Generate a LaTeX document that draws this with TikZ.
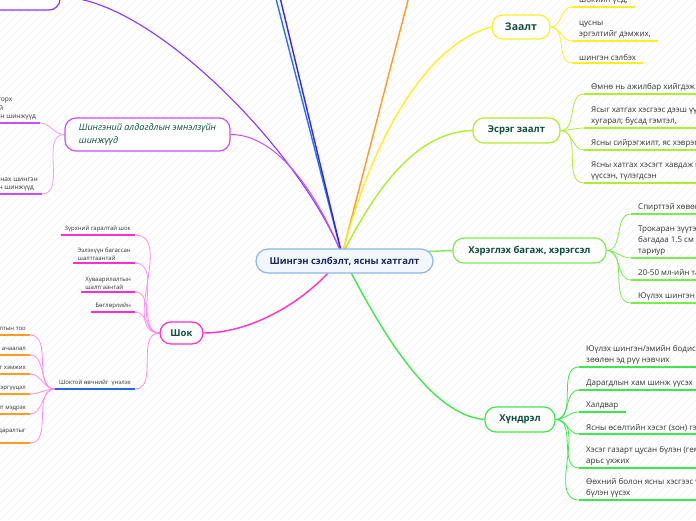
\documentclass[tikz,border=0pt]{standalone}
\usepackage{fontspec}
\setmainfont{Open Sans}
\usetikzlibrary{backgrounds}
\definecolor{hubtext}{HTML}{1B2A52}
\definecolor{hubfill}{HTML}{F2F7FE}
\definecolor{hubline}{HTML}{8DB6E2}
\definecolor{darkgreen}{HTML}{0D4F3C}
\definecolor{leaftext}{HTML}{333333}
\definecolor{yel}{HTML}{FFEE22}
\definecolor{lime}{HTML}{AEEE2E}
\definecolor{grn}{HTML}{77EE4E}
\definecolor{brgreen}{HTML}{3FE84A}
\definecolor{mag}{HTML}{FF2ECC}
\definecolor{lightmag}{HTML}{FF8CEE}
\definecolor{violet}{HTML}{CC4CFF}
\definecolor{lightviolet}{HTML}{EE9CFF}
\definecolor{purp}{HTML}{8A33FF}
\definecolor{sky}{HTML}{2273FF}
\definecolor{indigo}{HTML}{3A22EE}
\definecolor{orng}{HTML}{FF9A22}
\definecolor{ublue}{HTML}{2266EE}
\begin{document}
\begin{tikzpicture}[x=1pt, y=-1pt,
    branch/.style={draw=#1, fill=white, line width=1.2pt, rounded corners=11pt,
      text=darkgreen, font=\bfseries\fontsize{9.5}{12}\selectfont, inner sep=2pt},
    leaf/.style={inner xsep=7pt, inner ysep=2.5pt, align=left, text=leaftext,
      font=\fontsize{8}{11}\selectfont,
      append after command={(\tikzlastnode.south west) edge[draw=#1, line width=1.4pt] (\tikzlastnode.south east)}},
    smallleaf/.style={leaf=#1, inner xsep=4pt, font=\fontsize{6}{8}\selectfont},
    twig/.style={draw=#1, line width=0.8pt},
    limb/.style={draw=#1, line width=1.4pt}]
  \useasboundingbox (0,0) rectangle (696,520);
  \clip (0,0) rectangle (696,520);

  % centre and main branches
  \node[draw=hubline, fill=hubfill, line width=1.2pt, rounded corners=12pt,
    minimum width=177pt, minimum height=24pt, text=hubtext,
    font=\bfseries\fontsize{9.5}{11}\selectfont] (hub) at (344.5,261) {Шингэн сэлбэлт, ясны хатгалт};
  \coordinate (hubc) at (342,255);
  \node[branch=yel, minimum width=58pt, minimum height=24pt, font=\bfseries\fontsize{10.5}{12}\selectfont] (indic) at (521,27) {Заалт};
  \node[branch=lime, minimum width=87pt, minimum height=25pt] (contra) at (516.5,130.5) {Эсрэг заалт};
  \node[branch=grn, minimum width=153pt, minimum height=25pt] (tools) at (529.5,250.5) {Хэрэглэх багаж, хэрэгсэл};
  \node[branch=brgreen, minimum width=70pt, minimum height=25pt] (compl) at (520,419.5) {Хүндрэл};
  \node[branch=mag, minimum width=43pt, minimum height=22pt] (shock) at (181.5,333) {Шок};
  \node[branch=violet, minimum width=165pt, minimum height=33pt, align=left,
    font=\itshape\fontsize{9}{12.5}\selectfont] (signs) at (147.5,134.5) {Шингэний алдагдлын эмнэлзүйн\\шинжүүд};
  \node[branch=purp, minimum width=96pt, minimum height=26pt] (rehyd) at (12,-3) {Шингэн сэлбэх};
  \coordinate (upsky) at (266,-40);
  \coordinate (upind) at (271,-40);
  \coordinate (upor) at (418.4,-40);

  % leaves
  \node[leaf=yel, anchor=south west] (z1) at (572,7) {шокийн үед,};
  \node[leaf=yel, anchor=south west] (z2) at (572,41) {цусны\\эргэлтийг дэмжих,};
  \node[leaf=yel, anchor=south west] (z3) at (572,63) {шингэн сэлбэх};

  \node[leaf=lime, anchor=south west] (e1) at (584,94) {Өмнө нь ажилбар хийгдэж байсан};
  \node[leaf=lime, anchor=south west] (e2) at (584,128) {Ясыг хатгах хэсгээс дээш үүссэн\\хугарал; бусад гэмтэл,};
  \node[leaf=lime, anchor=south west] (e3) at (584,150) {Ясны сийрэгжилт, яс хэврэгших};
  \node[leaf=lime, anchor=south west] (e4) at (584,183) {Ясны хатгах хэсэгт хавдаж идээ\\үүссэн, түлэгдсэн};

  \node[leaf=grn, anchor=south west] (h1) at (631,214) {Спирттэй хөвөн};
  \node[leaf=grn, anchor=south west] (h2) at (631,258) {Трокаран зүүтэй\\багадаа 1.5 см урт зүү,\\тариур};
  \node[leaf=grn, anchor=south west] (h3) at (631,280) {20-50 мл-ийн тариур};
  \node[leaf=grn, anchor=south west] (h4) at (631,303) {Юүлэх шингэн};

  \node[leaf=brgreen, anchor=south west] (k1) at (579,367) {Юүлэх шингэн/эмийн бодис\\зөөлөн эд рүү нэвчих};
  \node[leaf=brgreen, anchor=south west] (k2) at (579,390) {Дарагдлын хам шинж үүсэх};
  \node[leaf=brgreen, anchor=south west] (k3) at (579,412) {Халдвар};
  \node[leaf=brgreen, anchor=south west] (k4) at (579,434) {Ясны өсөлтийн хэсэг (зон) гэмтэх};
  \node[leaf=brgreen, anchor=south west] (k5) at (579,468) {Хэсэг газарт цусан бүлэн (гематом),\\арьс үхжих};
  \node[leaf=brgreen, anchor=south west] (k6) at (579,500) {Өөхний болон ясны хэсгээс үүдэлтэй\\бүлэн үүсэх};

  \node[smallleaf=mag, anchor=south east] (s1) at (135,235) {Зүрхний гаралтай шок};
  \node[smallleaf=mag, anchor=south east] (s2) at (135,263) {Эзлэхүүн багассан\\шалтгаантай};
  \node[smallleaf=mag, anchor=south east] (s3) at (135,292) {Хуваарилалтын\\шалтгаантай};
  \node[smallleaf=mag, anchor=south east] (s4) at (135,312) {Бөглөрлийн};
  \node[smallleaf=ublue, anchor=south east] (s5) at (135,389) {Шоктой өвчнийг\ \ үнэлэх};

  \node[smallleaf=orng, anchor=south east] (o1) at (30,335) {Зүрхний цохилтын тоо};
  \node[smallleaf=orng, anchor=south east] (o2) at (30,355) {Зүрхний ачаалал};
  \node[smallleaf=orng, anchor=south east] (o3) at (30,374) {Артерийн даралтыг хэмжих};
  \node[smallleaf=orng, anchor=south east] (o4) at (30,394) {Захын судасны эсэргүүцэл};
  \node[smallleaf=orng, anchor=south east] (o5) at (30,414) {Захын судасны лугшилт мэдрэх};
  \node[smallleaf=orng, anchor=south east] (o6) at (30,443) {Төвийн венийн даралтыг\\хэмжих};

  \node[smallleaf=violet, anchor=south east, font=\fontsize{6.6}{8.6}\selectfont] (a1) at (40,123) {Судас доторх\\шингэний\\эмнэлзүйн шинжүүд};
  \node[smallleaf=violet, anchor=south east, font=\fontsize{6.6}{8.6}\selectfont] (a2) at (42,194) {Эсийн гаднах шингэн\\алдагдлын шинжүүд};

  \begin{scope}[on background layer]
    \clip (0,0) rectangle (696,520);
    \fill[white] (0,0) rectangle (696,520);
    \foreach \i in {-520,-512,...,696}
      \draw[black!5, line width=0.6pt] (\i,520) -- (\i+520,0);

    \draw[limb=sky] (hubc) -- (upsky);
    \draw[limb=indigo] (hubc) -- (upind);
    \draw[limb=orng] (hubc) -- (upor);
    \draw[limb=purp, line width=1.1pt] (hubc) .. controls (300,150) and (150,-3) .. (rehyd.east);
    \draw[limb=violet, line width=1pt] (hubc) .. controls (320,200) and (280,134.5) .. (signs.east);
    \draw[limb=yel] (hubc) .. controls (380,110) and (440,40) .. (indic.west);
    \draw[limb=lime] (hubc) .. controls (380,180) and (420,132) .. (contra.west);
    \draw[limb=grn] (hubc) -- (tools.west);
    \draw[limb=brgreen] (hubc) .. controls (380,330) and (430,415) .. (compl.west);
    \draw[limb=mag] (hubc) .. controls (320,290) and (260,333) .. (shock.east);

    \foreach \n in {z1,z2,z3}
      \draw[twig=yel] (indic.east) to[out=0,in=180] (\n.south west);
    \foreach \n in {e1,e2,e3,e4}
      \draw[twig=lime] (contra.east) to[out=0,in=180] (\n.south west);
    \foreach \n in {h1,h2,h3,h4}
      \draw[twig=grn] (tools.east) to[out=0,in=180] (\n.south west);
    \foreach \n in {k1,k2,k3,k4,k5,k6}
      \draw[twig=brgreen] (compl.east) to[out=0,in=180] (\n.south west);
    \foreach \n in {s1,s2,s3,s4,s5}
      \draw[twig=lightmag] (shock.west) to[out=180,in=0] (\n.south east);
    \foreach \n in {o1,o2,o3,o4,o5,o6}
      \draw[twig=lightmag] (s5.south west) to[out=180,in=0] (\n.south east);
    \foreach \n in {a1,a2}
      \draw[twig=lightviolet] (signs.west) to[out=180,in=0] (\n.south east);
  \end{scope}
\end{tikzpicture}
\end{document}
